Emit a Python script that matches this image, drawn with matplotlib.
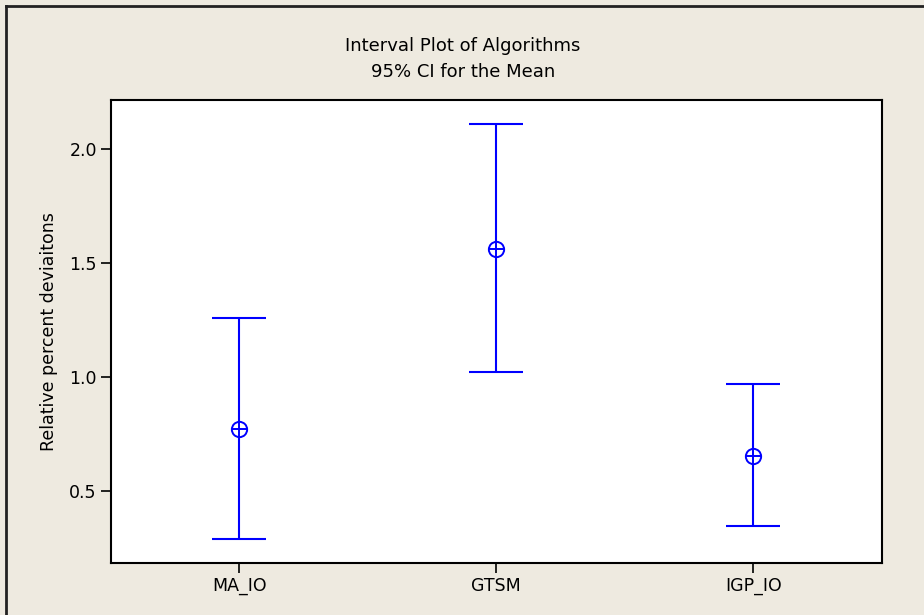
import matplotlib
matplotlib.use("Agg")
import matplotlib.pyplot as plt
from matplotlib.lines import Line2D

# interval plot data: mean with 95% CI per algorithm
algorithms = ["MA_IO", "GTSM", "IGP_IO"]
means = [0.770, 1.561, 0.652]
ci_lower = [0.289, 1.021, 0.346]
ci_upper = [1.259, 2.111, 0.971]

bg = "#EEEAE0"
blue = "#0000FF"

plt.rcParams["font.family"] = ["DejaVu Sans"]

fig = plt.figure(figsize=(9.24, 6.15), dpi=100, facecolor=bg)
ax = fig.add_axes([0.1198, 0.085, 0.9545 - 0.1198, 0.8374 - 0.085])
ax.set_facecolor("white")

positions = list(range(1, len(algorithms) + 1))
for x, m, lo, hi in zip(positions, means, ci_lower, ci_upper):
    ax.errorbar(x, m, yerr=[[m - lo], [hi - m]], fmt="none", ecolor=blue,
                elinewidth=1.5, capsize=19.5, capthick=1.5)
    ax.plot(x, m, marker="o", ms=11, mfc="white", mec=blue, mew=1.4, zorder=3)
    ax.plot(x, m, marker="+", ms=11, mec=blue, mew=1.4, zorder=4)

ax.set_xlim(0.5, 3.5)
ax.set_ylim(0.1837, 2.2166)
ax.set_xticks(positions)
ax.set_xticklabels(algorithms)
ax.set_yticks([0.5, 1.0, 1.5, 2.0])
ax.set_yticklabels(["0.5", "1.0", "1.5", "2.0"])
ax.tick_params(direction="out", length=7, width=1.2, labelsize=12.5, pad=3)
ax.set_ylabel("Relative percent deviaitons", fontsize=12.5, labelpad=8)

for s in ax.spines.values():
    s.set_linewidth(1.5)

# two-line title centred on the window
fig.text(463 / 924, 1 - 46 / 615, "Interval Plot of Algorithms",
         ha="center", va="center", fontsize=13)
fig.text(463 / 924, 1 - 72 / 615, "95% CI for the Mean",
         ha="center", va="center", fontsize=13)

# frame around the graph window (only left and top edges show)
fig.add_artist(Line2D([5.5 / 924, 5.5 / 924], [0, 1 - 5.5 / 615],
                      transform=fig.transFigure, color="#222222", lw=2))
fig.add_artist(Line2D([5.5 / 924, 1], [1 - 5.5 / 615, 1 - 5.5 / 615],
                      transform=fig.transFigure, color="#222222", lw=2))

fig.savefig("out.png", dpi=100, facecolor=bg)
